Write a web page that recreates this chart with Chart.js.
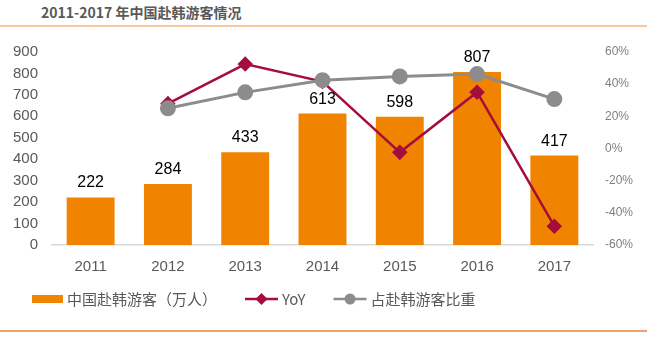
<!DOCTYPE html>
<html>
<head>
<meta charset="utf-8">
<script src="https://cdn.jsdelivr.net/npm/chart.js@4.4.1/dist/chart.umd.min.js"></script>
<style>
  body { margin: 0; background: #fff; }
  #wrap { position: relative; width: 647px; height: 337px; overflow: hidden; }
  #title { position: absolute; left: 41px; top: 2px; line-height: 20px;
           font: bold 14px "Noto Sans CJK SC", sans-serif; color: #595959; }
  #topline { position: absolute; left: 0; top: 25px; width: 647px; height: 2px; background: #f8c8a0; }
  #botline { position: absolute; left: 0; top: 330px; width: 647px; height: 2px; background: #eaa26e; }
  canvas { position: absolute; left: 0; top: 0; }
</style>
</head>
<body>
<div id="wrap">
  <div id="title">2011-2017 年中国赴韩游客情况</div>
  <div id="topline"></div>
  <canvas id="myChart" width="647" height="337"></canvas>
  <div id="botline"></div>
</div>
<script>
const years = ['2011', '2012', '2013', '2014', '2015', '2016', '2017'];

// 中国赴韩游客（万人）
const visitors = [222, 284, 433, 613, 598, 807, 417];

// YoY, %
const yoy = [null, 27.9, 52.5, 41.6, -2.4, 35.0, -48.3];

// 占赴韩游客比重, %
const share = [null, 25.0, 34.9, 42.5, 44.8, 46.3, 30.7];

const orange = '#F08300';
const crimson = '#A50D3C';
const grey = '#8C8C8C';
const textGrey = '#595959';

const data = {
    labels: years,
    datasets: [{
        label: '中国赴韩游客（万人）',
        type: 'bar',
        data: visitors,
        backgroundColor: orange,
        borderWidth: 0,
        barPercentage: 0.62,
        categoryPercentage: 1,
        yAxisID: 'y',
        order: 3
    }, {
        label: 'YoY',
        type: 'line',
        data: yoy,
        borderColor: crimson,
        backgroundColor: crimson,
        borderWidth: 2.5,
        pointStyle: 'rectRot',
        pointRadius: 6,
        pointHoverRadius: 6,
        tension: 0,
        yAxisID: 'y1',
        order: 2
    }, {
        label: '占赴韩游客比重',
        type: 'line',
        data: share,
        borderColor: grey,
        backgroundColor: grey,
        borderWidth: 3,
        pointStyle: 'circle',
        pointRadius: 6.5,
        pointHoverRadius: 6.5,
        tension: 0,
        yAxisID: 'y1',
        order: 1
    }]
};

// numbers over the bars
const barLabels = {
    id: 'barLabels',
    afterDatasetsDraw(chart) {
        const ctx = chart.ctx;
        const meta = chart.getDatasetMeta(0);
        ctx.save();
        ctx.font = '16px "Liberation Sans", Arial, sans-serif';
        ctx.fillStyle = '#000';
        ctx.textAlign = 'center';
        ctx.textBaseline = 'alphabetic';
        meta.data.forEach((bar, i) => {
            ctx.fillText(visitors[i], bar.x, bar.y - 10);
        });
        ctx.restore();
    }
};

// legend with line + marker swatches
const lineLegend = {
    id: 'lineLegend',
    afterDraw(chart) {
        const ctx = chart.ctx;
        const y = 299;
        let x = 32;
        ctx.save();
        ctx.font = '15px "Noto Sans CJK SC", sans-serif';
        ctx.textBaseline = 'middle';
        chart.data.datasets.forEach((ds, i) => {
            if (ds.type === 'bar') {
                ctx.fillStyle = ds.backgroundColor;
                ctx.fillRect(x, y - 4, 31, 8);
            } else {
                ctx.strokeStyle = ds.borderColor;
                ctx.lineWidth = 2.5;
                ctx.beginPath();
                ctx.moveTo(x, y);
                ctx.lineTo(x + 33, y);
                ctx.stroke();
                ctx.fillStyle = ds.backgroundColor;
                ctx.beginPath();
                if (ds.pointStyle === 'rectRot') {
                    ctx.moveTo(x + 16.5, y - 6);
                    ctx.lineTo(x + 22.5, y);
                    ctx.lineTo(x + 16.5, y + 6);
                    ctx.lineTo(x + 10.5, y);
                    ctx.closePath();
                } else {
                    ctx.arc(x + 16.5, y, 5.5, 0, Math.PI * 2);
                }
                ctx.fill();
            }
            x += (ds.type === 'bar' ? 31 : 33) + 4;
            ctx.fillStyle = textGrey;
            ctx.fillText(ds.label, x, y);
            x += ctx.measureText(ds.label).width + 28;
        });
        ctx.restore();
    }
};

const options = {
    responsive: false,
    animation: false,
    layout: {
        padding: { top: 52, bottom: 62, left: 0, right: 0 }
    },
    plugins: {
        legend: { display: false },
        tooltip: { enabled: false },
        title: { display: false }
    },
    scales: {
        x: {
            grid: { display: false, drawTicks: false },
            border: { display: true, color: '#D9D9D9', width: 1.5 },
            ticks: {
                color: textGrey,
                padding: 13,
                font: { family: '"Liberation Sans", Arial, sans-serif', size: 15 }
            },
            afterFit(scale) { scale.height = 30; }
        },
        y: {
            position: 'left',
            min: 0,
            max: 900,
            grid: { display: false, drawTicks: false },
            border: { display: false },
            ticks: {
                stepSize: 100,
                color: textGrey,
                padding: 14,
                font: { family: '"Liberation Sans", Arial, sans-serif', size: 15 }
            },
            afterFit(scale) { scale.width = 52; }
        },
        y1: {
            position: 'right',
            min: -60,
            max: 60,
            grid: { display: false, drawTicks: false },
            border: { display: false },
            ticks: {
                stepSize: 20,
                color: '#7F7F7F',
                padding: 12,
                font: { family: '"Liberation Sans", Arial, sans-serif', size: 12 },
                callback: v => v + '%'
            },
            afterFit(scale) { scale.width = 54; }
        }
    }
};

const config = {
    type: 'bar',
    data,
    options,
    plugins: [barLabels, lineLegend]
};

var myChart = new Chart(
    document.getElementById('myChart'),
    config
);
</script>
</body>
</html>
